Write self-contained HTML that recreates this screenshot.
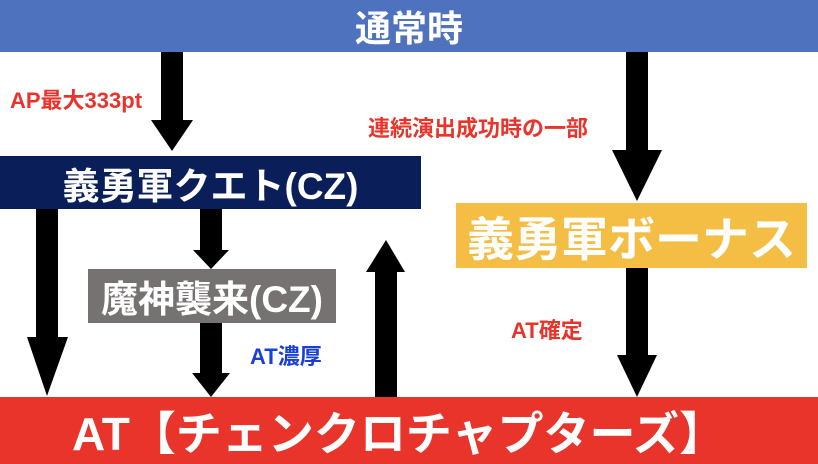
<!DOCTYPE html>
<html><head><meta charset="utf-8"><style>
body{margin:0;width:818px;height:464px;position:relative;overflow:hidden;background:#fff;font-family:"Liberation Sans","Noto Sans CJK JP",sans-serif;font-weight:bold}
.b{position:absolute;display:flex;align-items:center;justify-content:center;color:#fff;white-space:nowrap}
.l{position:absolute;white-space:nowrap;font-size:22px;line-height:24px}
svg{position:absolute;left:0;top:0}
</style></head><body>
<div class="b" style="left:0;top:0;width:818px;height:52px;background:#4e72bd;font-size:36px">通常時</div>
<div class="b" style="left:0;top:156px;width:421px;height:53px;background:#0a1f5a;font-size:37px">義勇軍クエト(CZ)</div>
<div class="b" style="left:88px;top:269px;width:248px;height:54px;background:#767271;font-size:37px">魔神襲来(CZ)</div>
<div class="b" style="left:456px;top:203px;width:351px;height:65px;background:#f4be45;font-size:47px">義勇軍ボーナス</div>
<div class="b" style="left:0;top:397px;width:818px;height:67px;background:#e8342a;font-size:46px;justify-content:flex-start;padding-left:72px;box-sizing:border-box">AT【チェンクロチャプターズ】</div>
<svg width="818" height="464">
<g fill="#000">
<polygon points="161,52 183,52 183,120 193,120 172,151 151,120 161,120"/>
<polygon points="36,209 58,209 58,337 68,337 47,396 27,337 36,337"/>
<polygon points="200,209 222,209 222,250 229,250 211,269 193,250 200,250"/>
<polygon points="200,323 222,323 222,373 230,373 211,397 192,373 200,373"/>
<polygon points="375,397 397,397 397,272 405,272 386,240 366,272 375,272"/>
<polygon points="626,52 648,52 648,150 662,150 637,201 612,150 626,150"/>
<polygon points="626,268 648,268 648,355 657,355 637,397 617,355 626,355"/>
</g></svg>
<div class="l" style="left:10px;top:89px;color:#e8342a">AP最大333pt</div>
<div class="l" style="left:368px;top:117px;color:#e8342a">連続演出成功時の一部</div>
<div class="l" style="left:511px;top:319px;color:#e8342a">AT確定</div>
<div class="l" style="left:250px;top:345px;color:#1a3fd6">AT濃厚</div>
</body></html>
